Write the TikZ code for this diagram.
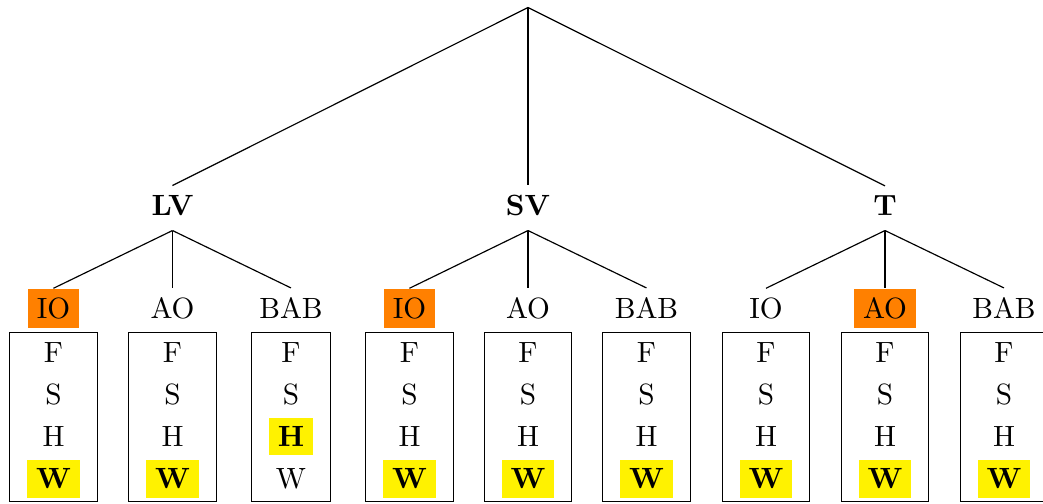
\documentclass[tikz,border=0pt]{standalone}
\usepackage{xcolor}
\renewcommand{\arraystretch}{1.2}
\newcommand{\hlY}[1]{\colorbox{yellow}{\textbf{#1}}}
\begin{document}
\begin{tikzpicture}[x=0.3413pt,y=0.3413pt,
  inner/.style={font=\bfseries, inner sep=3pt, text depth=2.1pt, anchor=base},
  leaf/.style={inner sep=3pt, anchor=base},
  hi/.style={fill=orange},
  fbox/.style={draw, inner sep=0pt, anchor=north, line width=0.4pt},
  edge/.style={line width=0.4pt}]
\useasboundingbox (0,0) rectangle (1043,-503);
\coordinate (root) at (528,-7.5);
% inner nodes
\node[inner] (LV) at (172.5,-215) {LV};
\node[inner] (SV) at (528,-215) {SV};
\node[inner] (T)  at (885,-215) {T};
% leaf labels
\node[leaf,hi] (l1) at (53.5,-318.3) {IO};
\node[leaf]    (l2) at (172.5,-318.3) {AO};
\node[leaf]    (l3) at (291,-318.3) {BAB};
\node[leaf,hi] (l4) at (409.5,-318.3) {IO};
\node[leaf]    (l5) at (528,-318.3) {AO};
\node[leaf]    (l6) at (646.5,-318.3) {BAB};
\node[leaf]    (l7) at (766,-318.3) {IO};
\node[leaf,hi] (l8) at (885,-318.3) {AO};
\node[leaf]    (l9) at (1004,-318.3) {BAB};
% boxes
\node[fbox] (b1) at (53.5,-332) {\begin{tabular}{c}F\\S\\H\\\hlY{W}\end{tabular}};
\node[fbox] (b2) at (172.5,-332) {\begin{tabular}{c}F\\S\\H\\\hlY{W}\end{tabular}};
\node[fbox] (b3) at (291,-332) {\begin{tabular}{c}F\\S\\\hlY{H}\\W\end{tabular}};
\node[fbox] (b4) at (409.5,-332) {\begin{tabular}{c}F\\S\\H\\\hlY{W}\end{tabular}};
\node[fbox] (b5) at (528,-332) {\begin{tabular}{c}F\\S\\H\\\hlY{W}\end{tabular}};
\node[fbox] (b6) at (646.5,-332) {\begin{tabular}{c}F\\S\\H\\\hlY{W}\end{tabular}};
\node[fbox] (b7) at (766,-332) {\begin{tabular}{c}F\\S\\H\\\hlY{W}\end{tabular}};
\node[fbox] (b8) at (885,-332) {\begin{tabular}{c}F\\S\\H\\\hlY{W}\end{tabular}};
\node[fbox] (b9) at (1004,-332) {\begin{tabular}{c}F\\S\\H\\\hlY{W}\end{tabular}};
% edges
\draw[edge] (root) -- (LV.north);
\draw[edge] (root) -- (SV.north);
\draw[edge] (root) -- (T.north);
\draw[edge] (LV.south) -- (l1.north);
\draw[edge] (LV.south) -- (l2.north);
\draw[edge] (LV.south) -- (l3.north);
\draw[edge] (SV.south) -- (l4.north);
\draw[edge] (SV.south) -- (l5.north);
\draw[edge] (SV.south) -- (l6.north);
\draw[edge] (T.south) -- (l7.north);
\draw[edge] (T.south) -- (l8.north);
\draw[edge] (T.south) -- (l9.north);
\end{tikzpicture}
\end{document}
